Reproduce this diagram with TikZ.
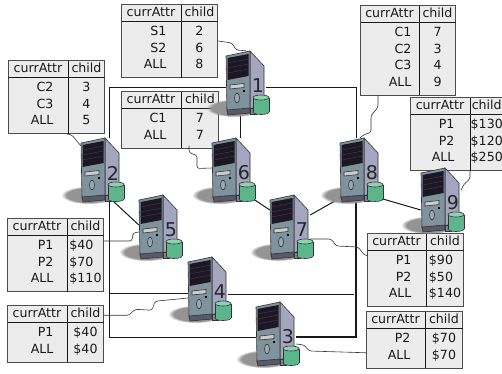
\documentclass[tikz,border=0pt]{standalone}
\usepackage{fontspec}
\usepackage{array}
\setmainfont{DejaVu Sans}
\usetikzlibrary{shapes.geometric, fadings}

\definecolor{pcside}{HTML}{A3A6BE}
\definecolor{pcfront}{HTML}{7F939E}
\definecolor{pcblack}{HTML}{1C1722}
\definecolor{pcline}{HTML}{3B3450}
\definecolor{pcfoot}{HTML}{59596A}
\definecolor{cylgreen}{HTML}{5DB58C}
\definecolor{cyltop}{HTML}{8FD0AE}
\definecolor{tabfill}{HTML}{ECECEC}

\setlength{\tabcolsep}{0pt}
\setlength{\arrayrulewidth}{1pt}
\newenvironment{attrtab}[3]{\begin{tabular}{@{}>{\raggedleft\arraybackslash}p{\dimexpr#1pt-#2pt\relax}@{\hspace{#2pt}}|>{\centering\arraybackslash}p{#3pt}@{}}
\multicolumn{1}{c|}{currAttr} & child \\ \hline}{\end{tabular}}
\newcommand{\firstgap}{\rule{0pt}{13.8pt}}
\newcommand{\lastgap}{\rule[-8.7pt]{0pt}{8.7pt}}

% one computer, drawn from the top left corner of its front
\newcommand{\pcart}[1]{
  \fill[black!42, path fading=circle with fuzzy edge 20 percent] (8,52) ellipse[x radius=28, y radius=9];
  \draw[pcedge, fill=pcside] (24,-5) -- (38,10) -- (38,47) -- (24,53) -- cycle;
  \draw[pcedge, fill=pcfront] (0,0) -- (24,-5) -- (24,53) -- (1,55) -- cycle;
  \fill[pcblack] (1.5,2) -- (22.5,-2) -- (22.5,20) -- (1.5,24) -- cycle;
  \foreach \liney in {7,12,17}
    \draw[pcline, line width=0.5pt] (1.5,\liney) -- (22.5,\liney-4);
  \draw[pcedge, fill=black!20] (4,29) -- (18,27.5) -- (18,31.5) -- (4,33) -- cycle;
  \draw[pcedge, fill=pcfront!80!white] (11,42) ellipse[x radius=2.5, y radius=5];
  \fill[black] (17,34) rectangle (19,36);
  \draw[pcedge, fill=pcside!80!black] (24,52) rectangle (30,58);
  \draw[pcedge, fill=pcfoot] (1,54) -- (24,52) -- (24,57) -- (2,59) -- cycle;
  \node[pcnum] (num#1) at (32,30) {#1};
  \draw[pcedge, fill=cylgreen] (35,56) ellipse[x radius=8, y radius=2.5];
  \fill[cylgreen] (27,41.5) rectangle (43,56);
  \draw[pcedge] (27,41.5) -- (27,56) (43,41.5) -- (43,56);
  \draw[pcedge, fill=cyltop] (35,41.5) ellipse[x radius=8, y radius=2.5];
}

\tikzset{
  pcedge/.style={draw=black!80, line width=0.6pt},
  pcbody/.style={minimum width=40pt, minimum height=60pt, inner sep=0pt},
  pcnum/.style={font=\fontsize{19}{19}\selectfont, inner sep=0pt, text=black!85},
  attrbox/.style={draw=black!70, line width=1pt, fill=tabfill, inner sep=0pt, anchor=north west,
    font=\fontsize{12.6}{16.5}\selectfont, text=black!90},
  netlink/.style={line width=1pt, black!90},
  wire/.style={line width=0.6pt, black!80, rounded corners=2.5pt}
}

\begin{document}
\begin{tikzpicture}[x=1pt, y=-1pt]
  \useasboundingbox (0,0) rectangle (502,373);

  % computers first, as empty boxes for the lines to find
  \foreach \name/\posx/\posy in {1/226/56, 2/81/143, 3/256/307, 4/188/262, 5/139/200, 6/212/143, 7/270/200, 8/340/143, 9/421/173}
    \node[pcbody] (s\name) at (\posx+20,\posy+25) {};

  % tables
  \node[attrbox] (tabS) at (121,4) {\begin{attrtab}{59}{14}{36}
    \firstgap S1 & 2 \\ S2 & 6 \\ ALL\lastgap & 8 \end{attrtab}};
  \node[attrbox] (tabC2) at (8,60) {\begin{attrtab}{59}{14}{36}
    \firstgap C2 & 3 \\ C3 & 4 \\ ALL\lastgap & 5 \end{attrtab}};
  \node[attrbox] (tabC1) at (121,91) {\begin{attrtab}{59}{14}{37}
    \firstgap C1 & 7 \\ ALL\lastgap & 7 \end{attrtab}};
  \node[attrbox] (tabC123) at (360,5) {\begin{attrtab}{58}{7}{36}
    \firstgap C1 & 7 \\ C2 & 3 \\ C3 & 4 \\ ALL\lastgap & 9 \end{attrtab}};
  \node[attrbox] (tabP9) at (410,97) {\begin{attrtab}{59}{15}{32.5}
    \firstgap P1 & \$130 \\ P2 & \$120 \\ ALL\lastgap & \$250 \end{attrtab}};
  \node[attrbox] (tabP5) at (7,218) {\begin{attrtab}{59}{13}{36}
    \firstgap P1 & \$40\phantom{0} \\ P2 & \$70\phantom{0} \\ ALL\lastgap & \$110 \end{attrtab}};
  \node[attrbox] (tab4) at (7,305) {\begin{attrtab}{59}{13}{36}
    \firstgap P1 & \$40 \\ ALL\lastgap & \$40 \end{attrtab}};
  \node[attrbox] (tab7) at (367,233) {\begin{attrtab}{58}{14}{37}
    \firstgap P1 & \$90\phantom{0} \\ P2 & \$50\phantom{0} \\ ALL\lastgap & \$140 \end{attrtab}};
  \node[attrbox] (tab3) at (366,311) {\begin{attrtab}{58}{14}{37}
    \firstgap P2 & \$70 \\ ALL\lastgap & \$70 \end{attrtab}};

  % network
  \coordinate (bendNW) at (109,87);
  \coordinate (bendNE) at (356,87);
  \coordinate (bendSW) at (109,337);
  \coordinate (bendSE) at (356,337);
  \coordinate (teeW) at (109,293);
  \coordinate (teeE) at (354,294);
  \coordinate (drop6) at (240,100);
  \draw[netlink] (s1.west |- bendNW) -- (bendNW) -- (s2.north -| bendNW);
  \draw[netlink] (s1.east |- bendNE) -- (bendNE) -- (s8.north -| bendNE);
  \draw[netlink] (s2.south -| bendSW) -- (bendSW) -- (s3.west |- bendSW);
  \draw[netlink, line width=1.4pt] (s8.south -| bendSE) -- (bendSE) -- (s3.east |- bendSE);
  \draw[netlink] (teeW) -- (s4.west |- teeW);
  \draw[netlink] (s4.east |- teeE) -- (teeE);
  \draw[netlink] (s1.south -| drop6) -- (s6.north -| drop6);
  \draw[netlink] ([xshift=9pt]s2.south) -- (s5.west);
  \draw[netlink] (s6.south east) -- ([yshift=15pt]s7.west);
  \draw[netlink] ([yshift=10pt]s7.east) -- (s8.south west);
  \draw[netlink] (s8.south east) -- ([yshift=-12pt]s9.west);

  % table to computer
  \draw[wire] (tabS.east) -- ++(14,2) -- ++(4,7) -- (s1.north);
  \draw[wire] ([xshift=59pt]tabC2.south west) -- ++(5,1) -- ([yshift=-8pt]s2.north west);
  \draw[wire] ([xshift=68pt,yshift=3pt]tabC1.south west) -- ++(0,7) -- ++(8,3) -- ++(0,13) -- (s6.west);
  \draw[wire] ([xshift=18pt]tabC123.south west) -- ++(0,12) -- ++(-7,8) -- ++(0,17) -- ++(-7,2) -- (s8.north);
  \draw[wire] ([xshift=60pt]tabP9.south west) -- ++(0,8) -- ++(-6,5) -- ([yshift=8pt]s9.east);
  \draw[wire] ([yshift=14pt]tabP5.east) -- ++(28,0) -- ++(1,-8) -- ([yshift=-7pt]s5.west);
  \draw[wire] ([yshift=18.5pt]tab4.east) -- ++(25,0) -- ++(6,-6) -- ++(17,1) -- ++(3,-9) -- ([yshift=-11pt]s4.west);
  \draw[wire] ([yshift=-14pt]s7.east) -- ++(21,0) -- ++(5,7) -- ++(22,1) -- ++(6,8) -- ([yshift=14.5pt]tab7.west);
  \draw[wire] ([yshift=-12pt]s3.east) -- ++(8,1) -- ++(5,6) -- ([yshift=-13pt]tab3.west);

  % computers on top
  \foreach \name/\posx/\posy in {1/226/56, 2/81/143, 3/256/307, 4/188/262, 5/139/200, 6/212/143, 7/270/200, 8/340/143, 9/421/173}
    \begin{scope}[shift={(\posx,\posy)}]
      \pcart{\name}
    \end{scope};
\end{tikzpicture}
\end{document}
